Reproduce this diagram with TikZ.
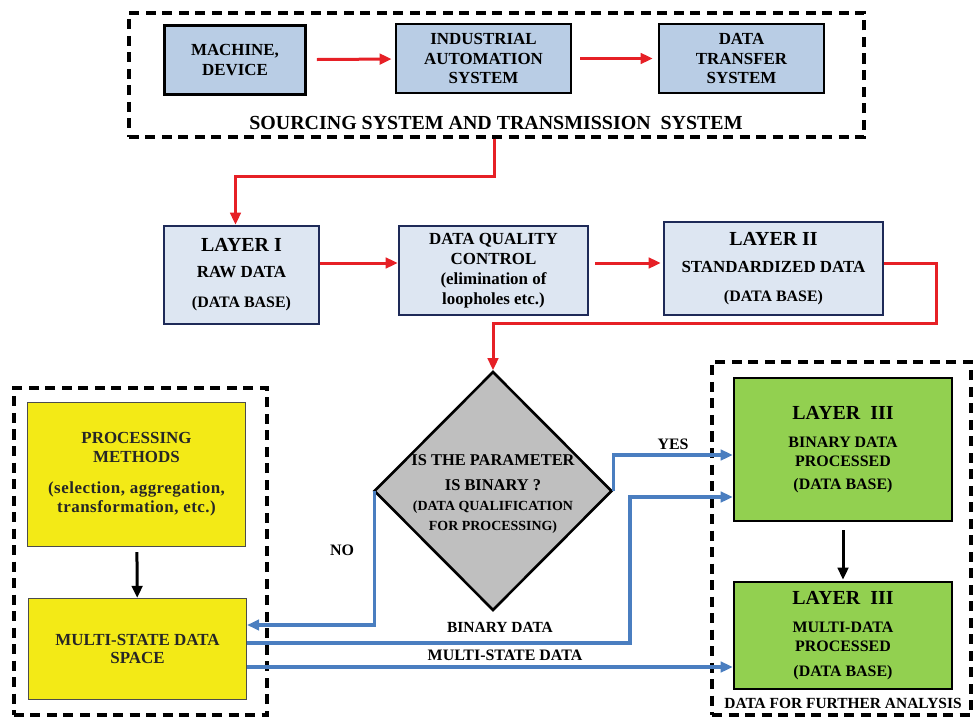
\documentclass[tikz,border=0pt]{standalone}
\usepackage{fontspec}
\setmainfont{Liberation Serif}
\newfontfamily\spacedfont[LetterSpace=3]{Liberation Serif}
\usepackage{tikz}
\usetikzlibrary{arrows.meta,shapes.geometric}

\definecolor{srcfill}{RGB}{185,205,229}
\definecolor{layfill}{RGB}{221,230,242}
\definecolor{layline}{RGB}{30,42,88}
\definecolor{redline}{RGB}{230,32,38}
\definecolor{blueline}{RGB}{74,126,192}
\definecolor{yelfill}{RGB}{243,234,22}
\definecolor{grnfill}{RGB}{146,208,80}
\definecolor{diafill}{RGB}{191,191,191}

\begin{document}
\begin{tikzpicture}[x=1bp,y=-1bp,>={Triangle[length=12bp,width=10.5bp]},line join=miter,
  every node/.style={font=\bfseries},
  srcbox/.style={draw=black,line width=2.6bp,fill=srcfill,align=center,inner sep=0pt,
    font=\bfseries\fontsize{17}{20}\selectfont},
  laybox/.style={draw=layline,line width=2.6bp,fill=layfill,align=center,inner sep=0pt},
  yelbox/.style={draw=black!70,line width=1.2bp,fill=yelfill,align=center,inner sep=0pt,text=black!85},
  grnbox/.style={draw=black,line width=2.6bp,fill=grnfill,align=center,inner sep=0pt},
  frame/.style={draw=black,line width=3.1bp,dash pattern=on 10bp off 6.5bp,inner sep=0pt},
  redarr/.style={->,draw=redline,line width=3bp},
  bluearr/.style={->,draw=blueline,line width=3.4bp},
  blackarr/.style={->,draw=black,line width=3bp},
  lbl/.style={font=\bfseries\fontsize{16}{18}\selectfont}]
\useasboundingbox (0,0) rectangle (976,718);
%%
% Node: frames
\node[frame,minimum width=735bp,minimum height=124bp] (srcframe) at (496.5,75) {};
\node[frame,minimum width=253bp,minimum height=327bp] (leftframe) at (140.5,551.5) {};
\node[frame,minimum width=259bp,minimum height=353bp] (rightframe) at (841.5,538.5) {};
\node[font=\bfseries\fontsize{20}{22}\selectfont] (srctitle) at (496,123) {SOURCING SYSTEM AND TRANSMISSION~~SYSTEM};
\node[lbl,font=\bfseries\fontsize{15.5}{18}\selectfont] (further) at (843,703) {DATA FOR FURTHER ANALYSIS};
% Node: sourcing row
\node[srcbox,minimum width=141bp,minimum height=69bp] (machine) at (235,60) {MACHINE,\\DEVICE};
\node[srcbox,minimum width=175bp,minimum height=69bp] (indauto) at (483.5,58.5) {INDUSTRIAL\\AUTOMATION\\SYSTEM};
\node[srcbox,minimum width=165bp,minimum height=69bp] (transfer) at (741.5,58.5) {DATA\\TRANSFER\\SYSTEM};
% Node: layers I and II
\node[laybox,minimum width=155bp,minimum height=98bp,font=\bfseries\fontsize{17}{26}\selectfont] (layer1) at (241.5,275)
  {{\fontsize{20}{24}\selectfont LAYER I}\\RAW DATA\\[4bp]{\fontsize{16}{18}\selectfont(DATA BASE)}};
\node[laybox,minimum width=189bp,minimum height=89bp,font=\bfseries\fontsize{17}{20}\selectfont] (dqc) at (493.5,270.5)
  {DATA QUALITY\\CONTROL\\(elimination of\\loopholes etc.)};
\node[laybox,minimum width=219bp,minimum height=93bp,font=\bfseries\fontsize{17}{27}\selectfont] (layer2) at (773.5,268.5)
  {{\fontsize{20}{24}\selectfont LAYER II}\\STANDARDIZED DATA\\[2bp]{\fontsize{16}{18}\selectfont(DATA BASE)}};
% Node: decision
\node[diamond,draw=black,line width=2.6bp,fill=diafill,inner sep=0pt,minimum width=238bp,minimum height=239bp] (dia) at (493,491) {};
\node[align=center,font=\bfseries\fontsize{16.5}{25}\selectfont] (diatext) at (493,494)
  {IS THE PARAMETER\\IS BINARY ?\\[-4bp]{\fontsize{14}{20}\selectfont(DATA QUALIFICATION}\\[-5bp]{\fontsize{14}{20}\selectfont FOR PROCESSING)}};
% Node: multi-state side
\node[yelbox,minimum width=218bp,minimum height=144bp,font=\bfseries\fontsize{17}{19}\selectfont] (procm) at (136.5,474.5)
  {PROCESSING\\METHODS\\[12bp]{\spacedfont\bfseries(selection, aggregation,}\\{\spacedfont\bfseries transformation, etc.)}};
\node[yelbox,minimum width=218bp,minimum height=101bp,font=\bfseries\fontsize{17}{19}\selectfont] (msds) at (137.5,649)
  {MULTI-STATE DATA\\SPACE};
% Node: layer III
\node[grnbox,minimum width=218bp,minimum height=143bp,font=\bfseries\fontsize{16}{19}\selectfont] (l3bin) at (843,449.5)
  {{\fontsize{20}{24}\selectfont LAYER~~III}\\[9bp]BINARY DATA\\PROCESSED\\[4bp](DATA BASE)};
\node[grnbox,minimum width=218bp,minimum height=107bp,font=\bfseries\fontsize{16}{19}\selectfont] (l3multi) at (843,635.5)
  {{\fontsize{20}{24}\selectfont LAYER~~III}\\[9bp]MULTI-DATA\\PROCESSED\\[6bp](DATA BASE)};
% Edge: sourcing row
\draw[redarr,shorten <=10bp,shorten >=3bp] (machine) -- (indauto);
\draw[redarr,shorten <=8bp,shorten >=5bp] (indauto) -- (transfer);
% Edge: srcframe -> layer1
\draw[redarr] ([xshift=-2bp]srcframe.south) -- ++(0,38) -| ([xshift=-6bp]layer1.north);
% Edge: layer1 -> dqc -> layer2
\draw[redarr] ([yshift=12bp]layer1.east) -- ([yshift=12bp]layer1.east -| dqc.west);
\draw[redarr,shorten <=6bp,shorten >=2bp] ([yshift=7.5bp]dqc.east) -- ([yshift=7.5bp]dqc.east -| layer2.west);
% Edge: layer2 -> dia
\draw[redarr] ([yshift=5bp]layer2.east) -- ++(52,0) -- ++(0,60) -| (dia.north);
% Edge: dia -> msds (NO)
\draw[bluearr] ([xshift=2bp]dia.west) |- ([yshift=24bp]msds.east);
\node[lbl] (nolbl) at (342,550) {NO};
% Edge: dia -> l3bin (YES)
\draw[bluearr] (dia.east) |- ([yshift=-5.5bp]l3bin.west);
\node[lbl] (yeslbl) at (673,444) {YES};
% Edge: msds -> l3bin, msds -> l3multi
\draw[bluearr] ([yshift=6bp]msds.east) -- ++(383,0) |- ([yshift=-47.5bp]l3bin.west);
\node[lbl,font=\bfseries\fontsize{15.5}{18}\selectfont] (binlbl) at (500,627) {BINARY DATA};
\draw[bluearr] ([yshift=-18bp]msds.east) -- ([yshift=-18bp]msds.east -| l3multi.west);
\node[lbl] (multilbl) at (505,655) {MULTI-STATE DATA};
% Edge: processing steps
\draw[blackarr,shorten <=5bp] (procm) -- (msds);
\draw[blackarr,shorten <=8bp,shorten >=1bp] (l3bin) -- (l3multi);
%
\end{tikzpicture}
\end{document}
